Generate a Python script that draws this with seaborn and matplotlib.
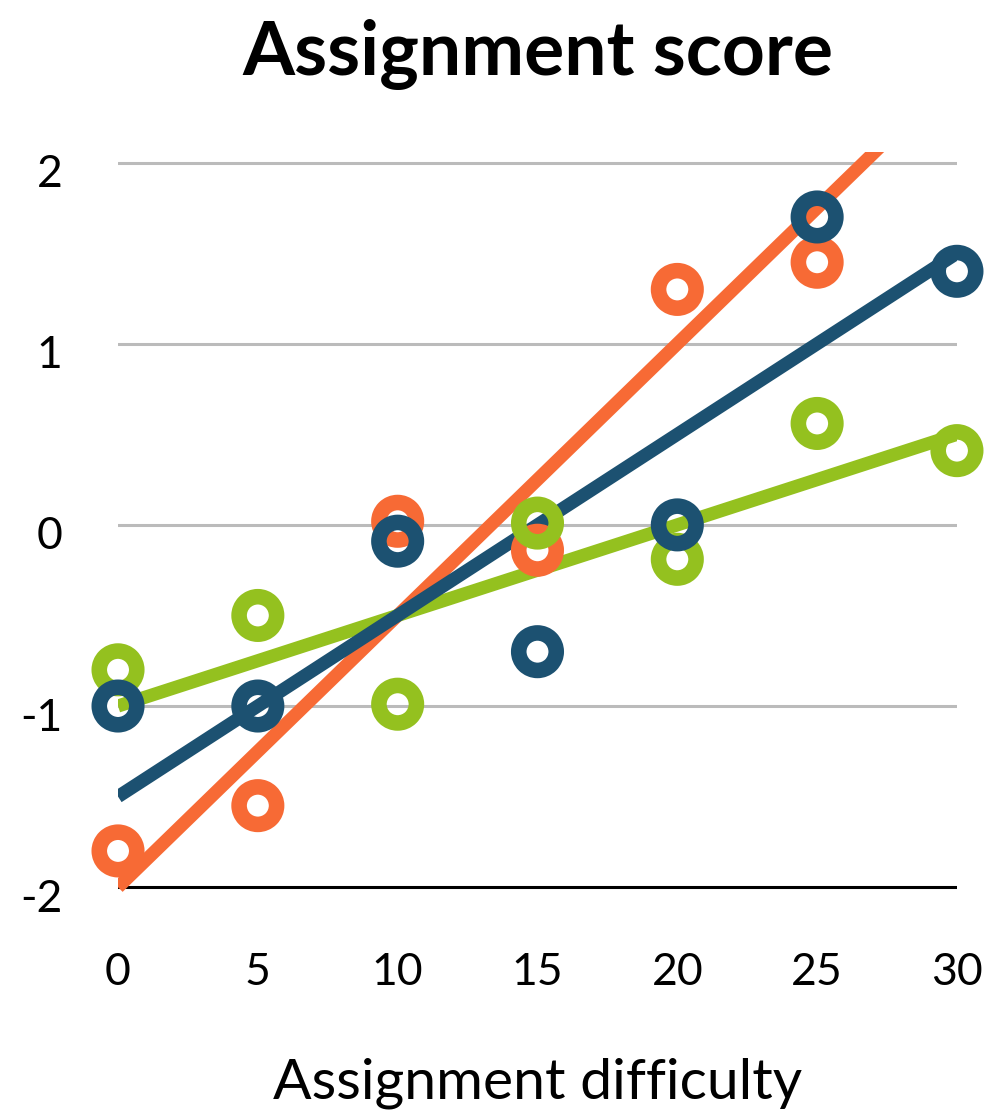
import numpy as np
import pandas as pd
import matplotlib
matplotlib.use("Agg")
import matplotlib.pyplot as plt
import matplotlib.transforms as mtransforms
import seaborn as sns

# Observed scores at each difficulty level
difficulty = [0, 5, 10, 15, 20, 25, 30]
orange_x = [0, 5, 10, 15, 20, 25]
orange_y = [-1.80, -1.55, 0.02, -0.14, 1.30, 1.45]
green_y = [-0.80, -0.50, -0.99, 0.01, -0.19, 0.56, 0.41]
blue_y = [-1.00, -1.00, -0.09, -0.70, 0.00, 1.70, 1.40]

# Trend lines: intercept and slope for each group
orange_fit = (-2.0, 0.15)
green_fit = (-1.0, 0.05)
blue_fit = (-1.5, 0.10)

x_ticks = [0, 5, 10, 15, 20, 25, 30]
y_ticks = [-2, -1, 0, 1, 2]
y_tick_labels = ["-2", "-1", "0", "1", "2"]

ORANGE = "#F76A35"
GREEN = "#94C11F"
BLUE = "#1C5171"

sns.set_theme(style="white")
plt.rcParams["font.family"] = ["Lato", "DejaVu Sans"]
plt.rcParams["text.color"] = "black"
plt.rcParams["xtick.color"] = "black"
plt.rcParams["ytick.color"] = "black"
plt.rcParams["axes.labelcolor"] = "black"

fig = plt.figure(figsize=(10.07, 11.11), dpi=100)
ax = fig.add_axes([0.1172, 0.1917, 0.8331, 0.6717])

series = [
    (orange_x, orange_y, orange_fit, ORANGE),
    (difficulty, green_y, green_fit, GREEN),
    (difficulty, blue_y, blue_fit, BLUE),
]

for xs, ys, (b0, b1), color in series:
    line_x = np.array([min(difficulty), max(difficulty)], dtype=float)
    line_df = pd.DataFrame({"x": line_x, "y": b0 + b1 * line_x})
    sns.lineplot(data=line_df, x="x", y="y", ax=ax, color=color,
                 linewidth=9.5, solid_capstyle="butt", zorder=3)
    pts = pd.DataFrame({"x": xs, "y": ys})
    sns.scatterplot(data=pts, x="x", y="y", ax=ax, s=27 ** 2,
                    facecolor="none", edgecolor=color, linewidth=11.2,
                    clip_on=False, zorder=4)

# Gridlines and baseline
for yv in y_ticks[1:]:
    ax.axhline(yv, color="#BBBBBB", linewidth=2.2, zorder=1)
ax.axhline(-2, color="black", linewidth=2.2, zorder=2)

ax.set_xlim(0, 30)
ax.set_ylim(-2.06, 2.06)
for s in ax.spines.values():
    s.set_visible(False)

ax.set_xticks(x_ticks)
ax.set_xticklabels([str(v) for v in x_ticks], fontsize=32, fontweight="normal")
ax.set_yticks(y_ticks)
ax.set_yticklabels(y_tick_labels, fontsize=32, fontweight="normal")
ax.tick_params(axis="x", length=0, pad=39, colors="black")
ax.tick_params(axis="y", length=0, pad=40, colors="black")
offset = mtransforms.ScaledTranslation(0, -8 / 100, fig.dpi_scale_trans)
for lab in ax.get_yticklabels():
    lab.set_transform(lab.get_transform() + offset)

ax.set_xlabel("Assignment difficulty", fontsize=41, labelpad=46, color="black")
ax.set_ylabel("")
ax.set_title("Assignment score", fontsize=54, fontweight="bold", pad=55,
             color="black")

fig.savefig("out.png", dpi=100, facecolor="white")
